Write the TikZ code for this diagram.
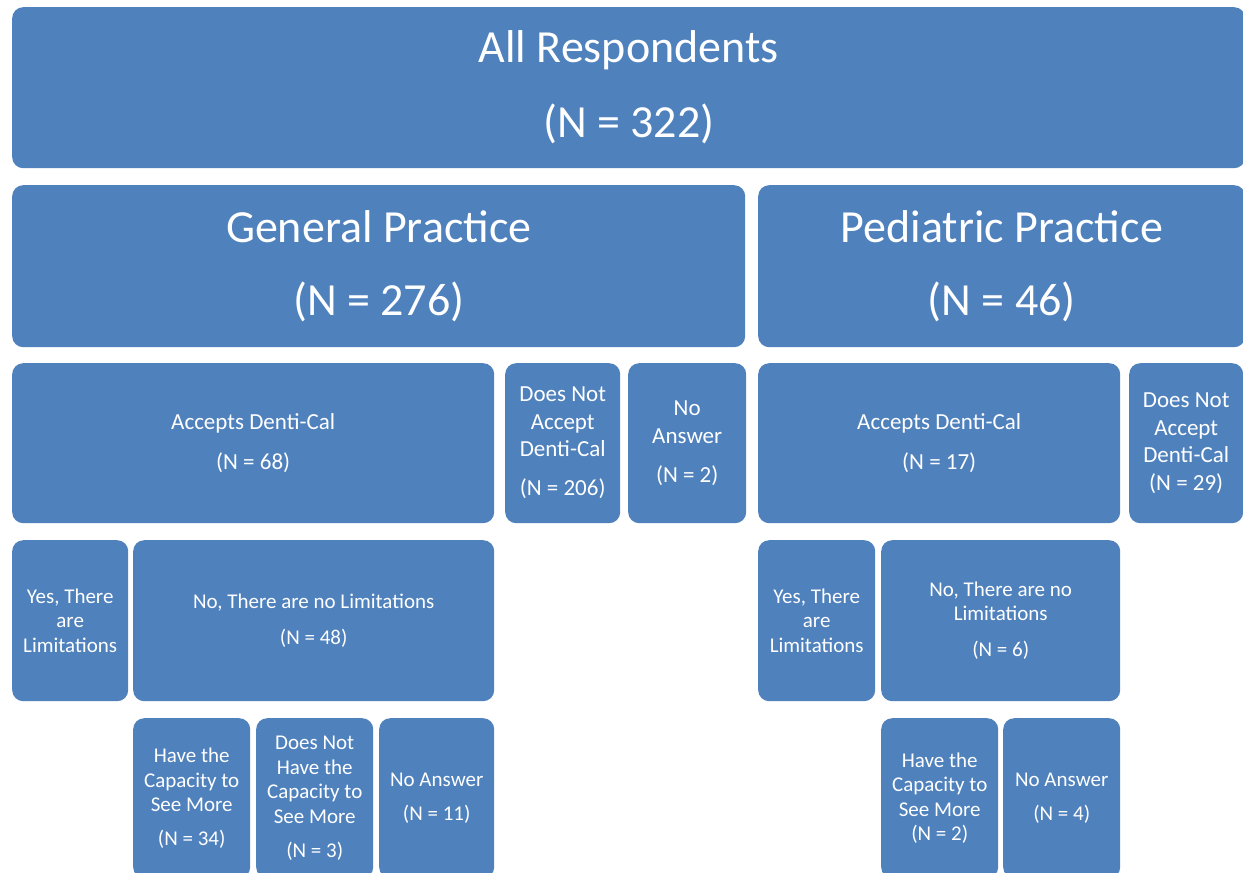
\documentclass[tikz,border=0pt]{standalone}
\usepackage{fontspec}
\setmainfont{Carlito}
\usepackage{tikz}

\definecolor{boxblue}{HTML}{4F81BD}

\begin{document}
\begin{tikzpicture}[x=1pt,y=-1pt,
        big/.style={font=\fontsize{46}{56}\selectfont},
        mid/.style={font=\fontsize{23}{27.5}\selectfont},
        small/.style={font=\fontsize{21}{24.5}\selectfont},
        every node/.style={fill=boxblue,text=white,rounded corners=11pt,
            anchor=north west,inner sep=0pt,align=center}]

    \useasboundingbox (0,0) rectangle (1243,873);
    \clip (0,0) rectangle (1243,873);

    % top level
    \node[big,minimum width=1233pt,minimum height=161pt] (all) at (12,7)
        {All Respondents\\[19pt](N = 322)};

    % practice type
    \node[big,minimum width=733pt,minimum height=162pt] (gen) at (12,185)
        {General Practice\\[17pt](N = 276)};
    \node[big,minimum width=487pt,minimum height=162pt] (ped) at (758,185)
        {Pediatric Practice\\[17pt](N = 46)};

    % denti-cal
    \node[mid,minimum width=482pt,minimum height=160pt] (accg) at (12,363)
        {Accepts Denti-Cal\\[12.5pt](N = 68)};
    \node[mid,minimum width=115pt,minimum height=160pt] (notg) at (505,363)
        {Does Not\\Accept\\Denti-Cal\\[11.5pt](N = 206)};
    \node[mid,minimum width=118pt,minimum height=160pt] (nag) at (628,363)
        {No\\Answer\\[11.5pt](N = 2)};
    \node[mid,minimum width=362pt,minimum height=160pt] (accp) at (758,363)
        {Accepts Denti-Cal\\[12.5pt](N = 17)};
    \node[mid,minimum width=114pt,minimum height=160pt] (notp) at (1129,363)
        {Does Not\\Accept\\Denti-Cal\\(N = 29)};

    % limitations
    \node[small,minimum width=116pt,minimum height=161pt] (yesg) at (12,540)
        {Yes, There\\are\\Limitations};
    \node[small,minimum width=361pt,minimum height=161pt] (nog) at (133,540)
        {No, There are no Limitations\\[11.5pt](N = 48)};
    \node[small,minimum width=117pt,minimum height=161pt] (yesp) at (758,540)
        {Yes, There\\are\\Limitations};
    \node[small,minimum width=239pt,minimum height=161pt] (nop) at (881,540)
        {No, There are no\\Limitations\\[11.5pt](N = 6)};

    % capacity
    \node[small,minimum width=117pt,minimum height=160pt] (haveg) at (133,718)
        {Have the\\Capacity to\\See More\\[9.5pt](N = 34)};
    \node[small,minimum width=117pt,minimum height=160pt] (nohaveg) at (256,718)
        {Does Not\\Have the\\Capacity to\\See More\\[9.5pt](N = 3)};
    \node[small,minimum width=115pt,minimum height=160pt] (nocapg) at (379,718)
        {No Answer\\[9.5pt](N = 11)};
    \node[small,minimum width=117pt,minimum height=160pt] (havep) at (881,718)
        {Have the\\Capacity to\\See More\\(N = 2)};
    \node[small,minimum width=117pt,minimum height=160pt] (nocapp) at (1003,718)
        {No Answer\\[9.5pt](N = 4)};
\end{tikzpicture}
\end{document}
